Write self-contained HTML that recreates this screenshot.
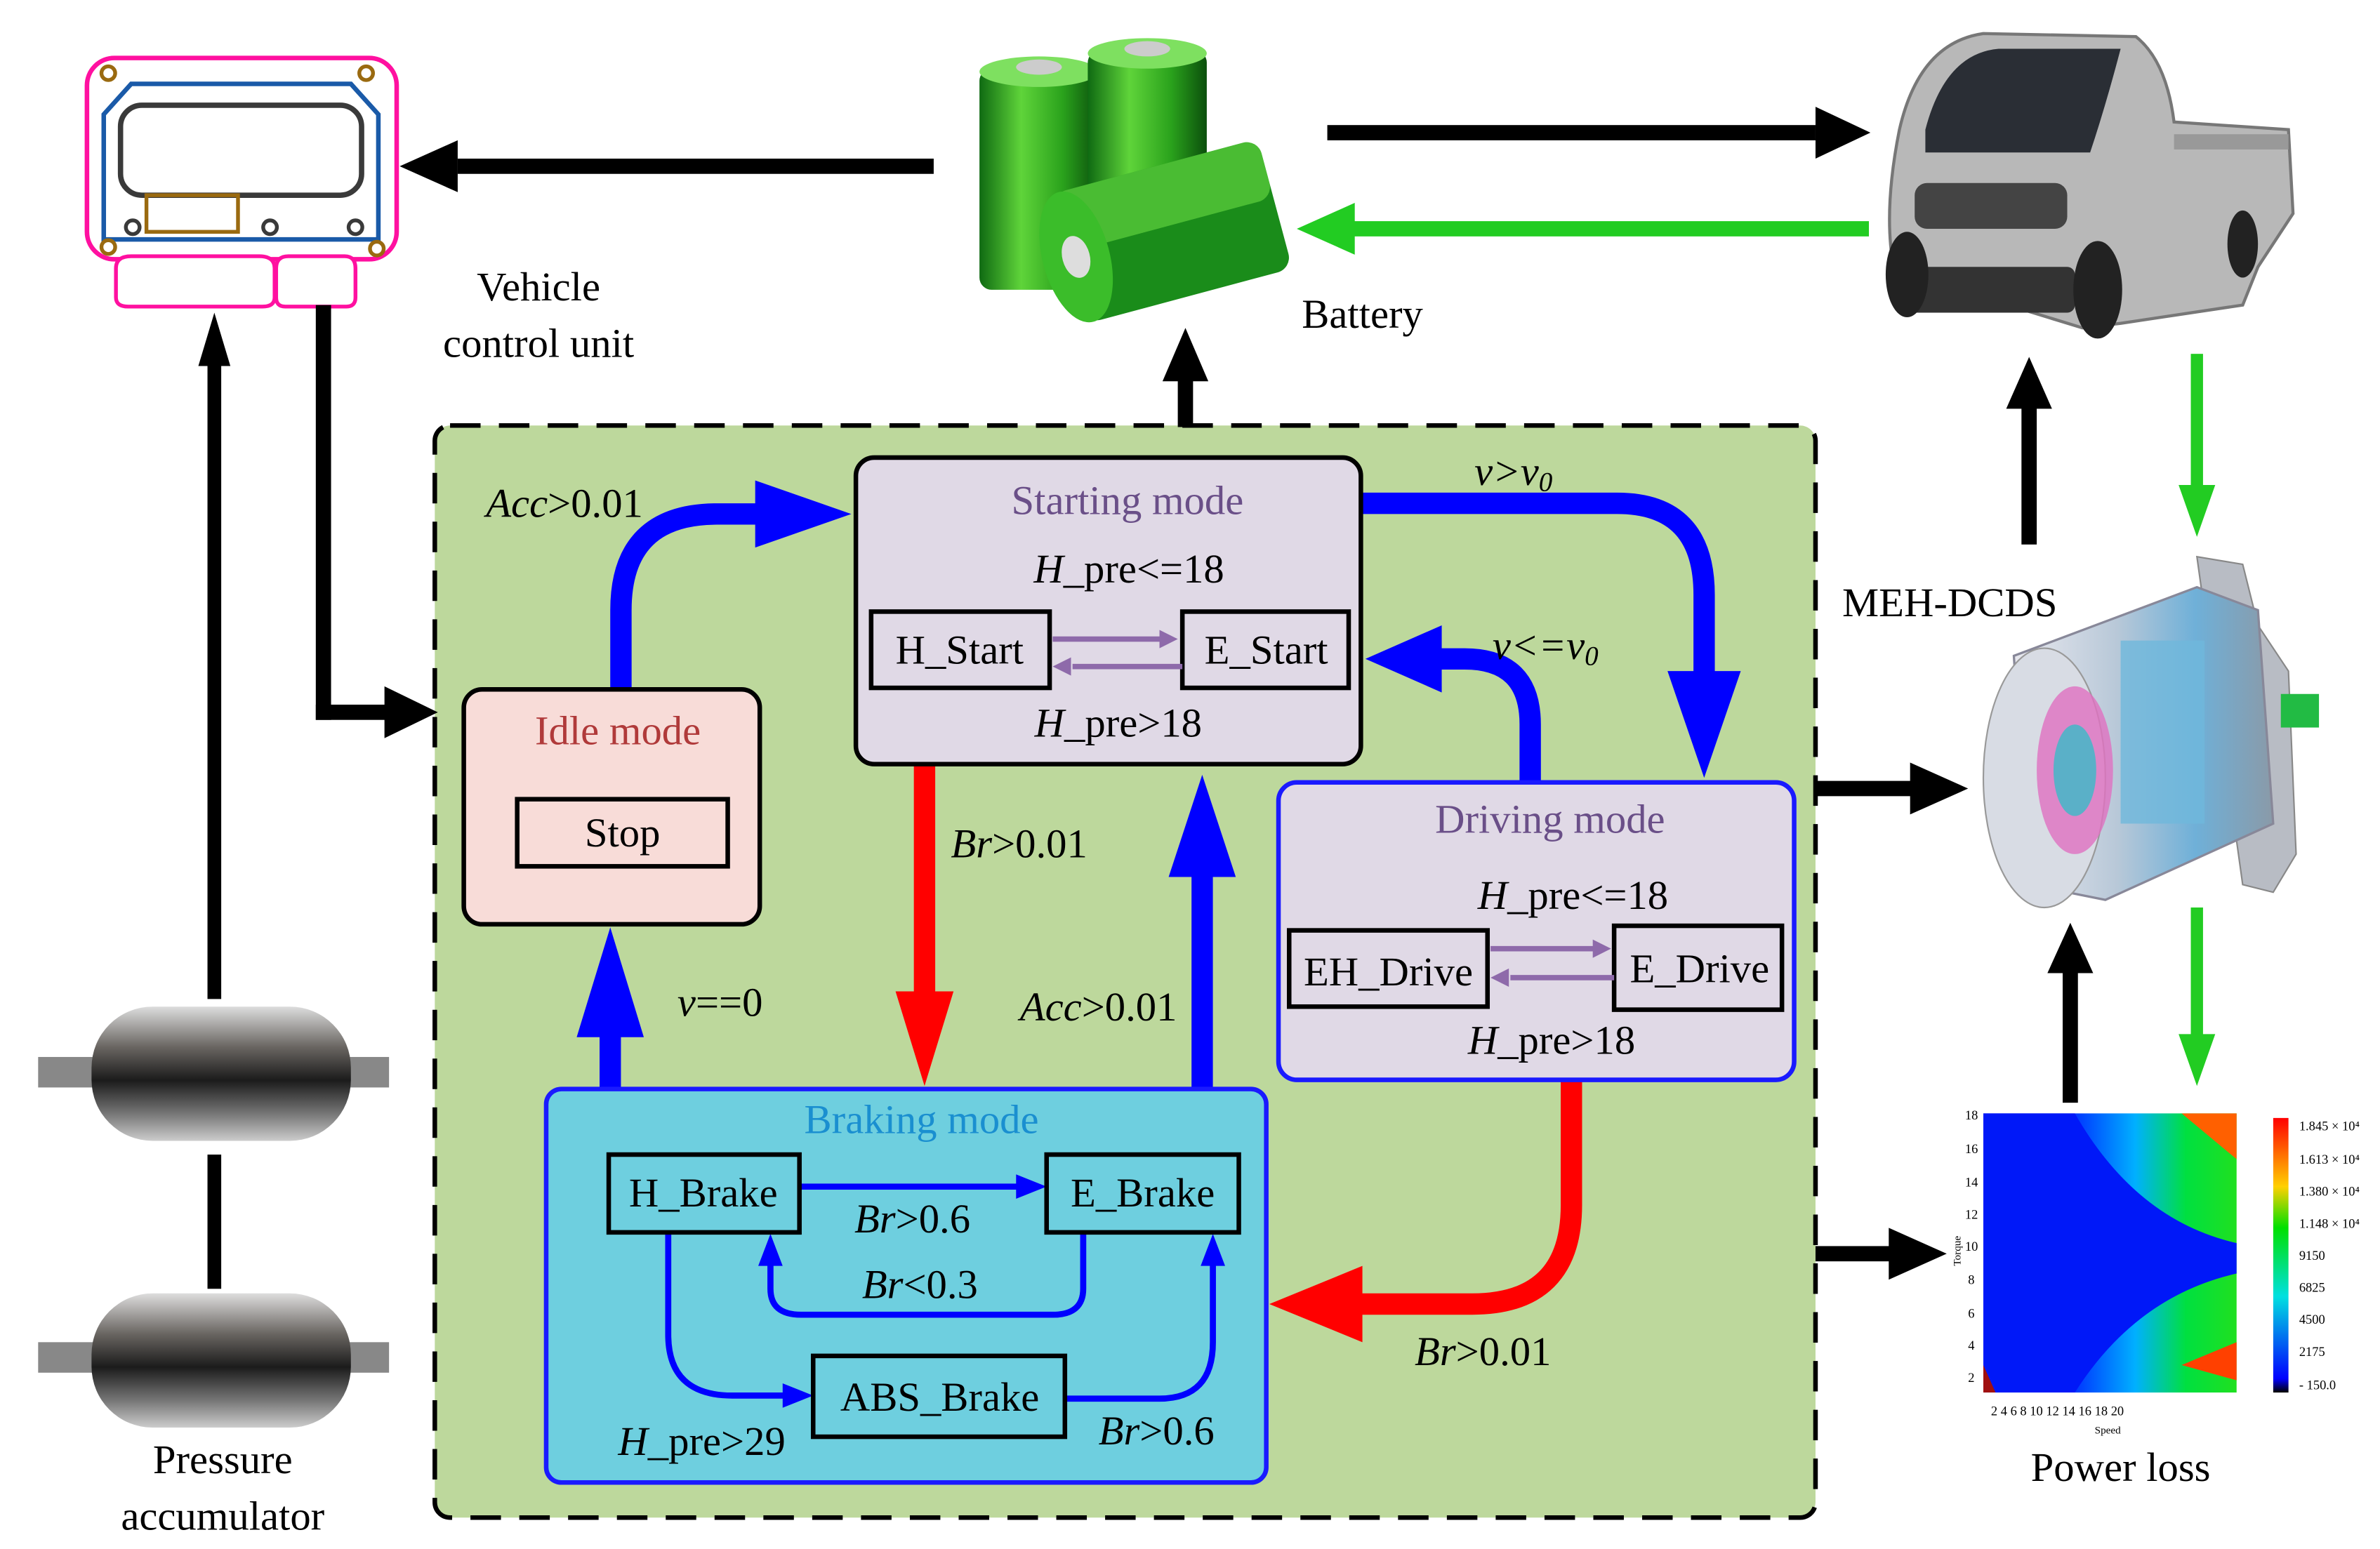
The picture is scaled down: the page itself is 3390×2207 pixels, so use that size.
<!DOCTYPE html>
<html><head><meta charset="utf-8"><style>
html,body{margin:0;padding:0;background:#fff;}
svg{display:block;}
text{font-family:"Liberation Serif",serif;}
</style></head><body>
<svg width="3390" height="2207" viewBox="0 0 1560 1015.6" preserveAspectRatio="none" xmlns="http://www.w3.org/2000/svg">
<defs>
<linearGradient id="gb" x1="0" x2="1"><stop offset="0" stop-color="#0f6a12"/><stop offset="0.35" stop-color="#5fd43a"/><stop offset="0.7" stop-color="#2aa21c"/><stop offset="1" stop-color="#0b4f0c"/></linearGradient>
<linearGradient id="gm" x1="0" x2="0" y1="0" y2="1"><stop offset="0" stop-color="#ddd"/><stop offset="0.3" stop-color="#6a6662"/><stop offset="0.55" stop-color="#1b1b1b"/><stop offset="0.8" stop-color="#777"/><stop offset="1" stop-color="#ccc"/></linearGradient>
<linearGradient id="hm" x1="0" x2="1"><stop offset="0" stop-color="#0010f0"/><stop offset="0.35" stop-color="#0030ff"/><stop offset="0.6" stop-color="#00b0ff"/><stop offset="0.8" stop-color="#00e040"/><stop offset="1" stop-color="#20e020"/></linearGradient>
<linearGradient id="cb" x1="0" x2="0" y1="0" y2="1"><stop offset="0" stop-color="#ff0000"/><stop offset="0.25" stop-color="#ffd000"/><stop offset="0.4" stop-color="#00e000"/><stop offset="0.65" stop-color="#00e0e0"/><stop offset="0.95" stop-color="#0000ff"/><stop offset="1" stop-color="#000"/></linearGradient>
<linearGradient id="mt" x1="0" x2="1"><stop offset="0" stop-color="#e8e8ee"/><stop offset="0.4" stop-color="#b8c8d8"/><stop offset="0.7" stop-color="#6fb0d8"/><stop offset="1" stop-color="#8a9aa8"/></linearGradient>
</defs>

<!-- dashed green region -->
<rect x="285" y="279" width="905" height="716" rx="10" fill="#bdd89c" stroke="#000" stroke-width="3" stroke-dasharray="20,12"/>

<!-- ECU -->
<rect x="57" y="38" width="203" height="132" rx="18" fill="#fff" stroke="#ff10a0" stroke-width="3"/>
<path d="M68 157 L68 75 L86 55 L230 55 L248 75 L248 157 Z" fill="none" stroke="#1a5aa8" stroke-width="3"/>
<rect x="79" y="69" width="158" height="59" rx="14" fill="#fff" stroke="#3a3a3a" stroke-width="3.5"/>
<rect x="96" y="128" width="60" height="24" fill="none" stroke="#9a6a10" stroke-width="2.5"/>
<g fill="none" stroke="#3a3a3a" stroke-width="2.5"><circle cx="87" cy="149" r="4.5"/><circle cx="177" cy="149" r="4.5"/><circle cx="233" cy="149" r="4.5"/></g>
<g fill="none" stroke="#9a6a10" stroke-width="2.5"><circle cx="71" cy="48" r="4.5"/><circle cx="240" cy="48" r="4.5"/><circle cx="71" cy="162" r="4.5"/><circle cx="247" cy="163" r="4.5"/></g>
<path d="M76 176 Q76 168 86 168 L170 168 Q180 168 180 176 L180 195 Q180 201 172 201 L84 201 Q76 201 76 195 Z" fill="#fff" stroke="#ff10a0" stroke-width="2.5"/>
<path d="M181 176 Q181 168 189 168 L226 168 Q233 168 233 176 L233 195 Q233 201 227 201 L187 201 Q181 201 181 195 Z" fill="#fff" stroke="#ff10a0" stroke-width="2.5"/>
<text x="353" y="197" font-size="27" text-anchor="middle">Vehicle</text>
<text x="353" y="234" font-size="27" text-anchor="middle">control unit</text>

<!-- batteries -->
<g>
<rect x="642" y="45" width="78" height="145" rx="8" fill="url(#gb)"/>
<ellipse cx="681" cy="47" rx="39" ry="10" fill="#7ee060"/><ellipse cx="681" cy="44" rx="15" ry="5" fill="#ccc"/>
<rect x="713" y="33" width="78" height="140" rx="8" fill="url(#gb)"/>
<ellipse cx="752" cy="35" rx="39" ry="10" fill="#7ee060"/><ellipse cx="752" cy="32" rx="15" ry="5" fill="#ccc"/>
<g transform="rotate(-15 760 160)">
<rect x="700" y="110" width="140" height="88" rx="10" fill="#1a8c1a"/>
<rect x="700" y="110" width="140" height="40" rx="10" fill="#6adc44" opacity="0.6"/>
<ellipse cx="705" cy="154" rx="22" ry="44" fill="#3bbd2a"/>
<ellipse cx="705" cy="154" rx="9" ry="14" fill="#ddd"/>
</g>
</g>
<text x="893" y="215" font-size="27" text-anchor="middle">Battery</text>

<!-- truck -->
<g>
<path d="M1245 85 Q1258 28 1300 22 L1400 24 Q1420 40 1425 80 L1500 85 L1503 140 L1480 175 L1470 200 L1390 212 L1365 215 L1300 195 L1245 190 Q1232 150 1245 85 Z" fill="#b8b8b8" stroke="#777" stroke-width="2"/>
<path d="M1262 85 Q1275 35 1310 32 L1390 32 Q1380 70 1370 100 L1262 100 Z" fill="#2a2e35"/>
<rect x="1255" y="120" width="100" height="30" rx="8" fill="#444"/>
<rect x="1250" y="175" width="110" height="30" rx="5" fill="#333"/>
<ellipse cx="1250" cy="180" rx="14" ry="28" fill="#222"/>
<ellipse cx="1375" cy="190" rx="16" ry="32" fill="#222"/>
<ellipse cx="1470" cy="160" rx="10" ry="22" fill="#222"/>
<rect x="1425" y="88" width="75" height="10" fill="#999"/>
</g>
<text x="1278" y="404" font-size="27" text-anchor="middle">MEH-DCDS</text>

<!-- motor -->
<g>
<path d="M1440 365 L1470 370 L1480 410 L1500 440 L1505 560 L1490 585 L1470 580 Z" fill="#b8bcc4" stroke="#888"/>
<path d="M1320 430 L1440 385 L1480 400 L1490 540 L1380 590 L1330 580 Z" fill="url(#mt)" stroke="#889" stroke-width="1.5"/>
<ellipse cx="1340" cy="510" rx="40" ry="85" fill="#d8dce4" stroke="#999"/>
<ellipse cx="1360" cy="505" rx="25" ry="55" fill="#e070c0" opacity="0.8"/>
<ellipse cx="1360" cy="505" rx="14" ry="30" fill="#5ab0c8"/>
<rect x="1390" y="420" width="55" height="120" fill="#6fb8dc" opacity="0.8"/>
<rect x="1495" y="455" width="25" height="22" fill="#22bb44"/>
</g>

<!-- heatmap -->
<g>
<rect x="1300" y="730" width="166" height="183" fill="url(#hm)"/>
<path d="M1300 730 L1360 730 Q1400 800 1466 815 L1466 835 Q1400 850 1360 913 L1300 913 Z" fill="#0018f8"/>
<path d="M1430 730 L1466 730 L1466 760 Z" fill="#ff6000"/>
<path d="M1430 895 L1466 880 L1466 905 Z" fill="#ff4000"/>
<path d="M1300 895 L1308 913 L1300 913 Z" fill="#a01010"/>
<rect x="1490" y="733" width="10" height="180" fill="url(#cb)"/>
<g font-size="8.5" fill="#000">
<text x="1507" y="741">1.845 × 10⁴</text><text x="1507" y="763">1.613 × 10⁴</text><text x="1507" y="784">1.380 × 10⁴</text><text x="1507" y="805">1.148 × 10⁴</text>
<text x="1507" y="826">9150</text><text x="1507" y="847">6825</text><text x="1507" y="868">4500</text><text x="1507" y="889">2175</text><text x="1507" y="911">- 150.0</text>
<text x="1288" y="734">18</text><text x="1288" y="756">16</text><text x="1288" y="778">14</text><text x="1288" y="799">12</text><text x="1288" y="820">10</text><text x="1290" y="842">8</text><text x="1290" y="864">6</text><text x="1290" y="885">4</text><text x="1290" y="906">2</text>
<text x="1305" y="928">2   4   6   8  10  12  14  16  18  20</text>
<text x="1373" y="940" font-size="7">Speed</text>
<text x="1285" y="830" font-size="7" transform="rotate(-90 1285 830)">Torque</text>
</g>
</g>
<text x="1390" y="971" font-size="27" text-anchor="middle">Power loss</text>

<!-- accumulators -->
<g>
<rect x="25" y="693" width="40" height="20" fill="#888"/><rect x="225" y="693" width="30" height="20" fill="#888"/>
<rect x="60" y="660" width="170" height="88" rx="40" fill="url(#gm)"/>
<rect x="25" y="880" width="40" height="20" fill="#888"/><rect x="225" y="880" width="30" height="20" fill="#888"/>
<rect x="60" y="848" width="170" height="88" rx="40" fill="url(#gm)"/>
</g>
<text x="146" y="966" font-size="27" text-anchor="middle">Pressure</text>
<text x="146" y="1003" font-size="27" text-anchor="middle">accumulator</text>

<!-- black arrows -->
<g fill="#000" stroke="none">
<rect x="300" y="104" width="312" height="10"/><polygon points="262,109 300,92 300,126"/>
<rect x="870" y="82" width="320" height="10"/><polygon points="1226,87 1190,70 1190,104"/>
<rect x="772" y="245" width="10" height="35"/><polygon points="777,215 762,250 792,250"/>
<rect x="136" y="235" width="9" height="420"/><polygon points="140.5,205 130,240 151,240"/>
<rect x="136" y="757" width="9" height="88"/>
<rect x="207" y="200" width="10" height="272"/><rect x="207" y="462" width="50" height="10"/><polygon points="287,467 252,450 252,484"/>
<rect x="1190" y="512" width="65" height="10"/><polygon points="1290,517 1252,500 1252,534"/>
<rect x="1190" y="817" width="50" height="10"/><polygon points="1276,822 1238,805 1238,839"/>
<rect x="1325" y="262" width="10" height="95"/><polygon points="1330,234 1315,268 1345,268"/>
<rect x="1352" y="633" width="10" height="90"/><polygon points="1357,605 1342,638 1372,638"/>
</g>
<!-- green arrows -->
<g fill="#22cc22">
<rect x="885" y="145" width="340" height="10"/><polygon points="850,150 888,133 888,167"/>
<rect x="1436" y="232" width="8" height="90"/><polygon points="1440,352 1428,318 1452,318"/>
<rect x="1436" y="595" width="8" height="85"/><polygon points="1440,712 1428,678 1452,678"/>
</g>

<!-- big blue/red connectors -->
<g fill="none" stroke-width="14">
<path d="M407 452 L407 400 Q407 337 470 337 L500 337" stroke="#0000ff"/>
<path d="M892 330 L1060 330 Q1117 330 1117 390 L1117 445" stroke="#0000ff"/>
<path d="M1003 513 L1003 475 Q1003 432 960 432 L940 432" stroke="#0000ff"/>
<path d="M788 714 L788 570" stroke="#0000ff"/>
<path d="M400 714 L400 675" stroke="#0000ff"/>
<path d="M606 501 L606 655" stroke="#ff0000"/>
<path d="M1030 708 L1030 790 Q1030 855 965 855 L888 855" stroke="#ff0000"/>
</g>
<g>
<polygon points="558,337 495,315 495,359" fill="#0000ff"/>
<polygon points="1117,510 1093,440 1141,440" fill="#0000ff"/>
<polygon points="895,432 945,410 945,454" fill="#0000ff"/>
<polygon points="788,508 766,575 810,575" fill="#0000ff"/>
<polygon points="400,608 378,680 422,680" fill="#0000ff"/>
<polygon points="606,712 587,650 625,650" fill="#ff0000"/>
<polygon points="832,855 893,830 893,880" fill="#ff0000"/>
</g>

<!-- Starting mode -->
<rect x="561" y="300" width="331" height="201" rx="12" fill="#e0d9e6" stroke="#000" stroke-width="3"/>
<text x="739" y="337" font-size="27" text-anchor="middle" fill="#6a4f88">Starting mode</text>
<text x="740" y="382" font-size="27" text-anchor="middle"><tspan font-style="italic">H</tspan>_pre&lt;=18</text>
<rect x="571" y="401" width="117" height="50" fill="#e0d9e6" stroke="#000" stroke-width="3"/>
<text x="629" y="435" font-size="27" text-anchor="middle">H_Start</text>
<rect x="775" y="401" width="109" height="50" fill="#e0d9e6" stroke="#000" stroke-width="3"/>
<text x="830" y="435" font-size="27" text-anchor="middle">E_Start</text>
<g stroke="#8e6aaa" stroke-width="3.5" fill="#8e6aaa"><line x1="690" y1="419" x2="762" y2="419"/><polygon points="772,419 760,413 760,425" stroke="none"/><line x1="703" y1="437" x2="775" y2="437"/><polygon points="690,437 702,431 702,443" stroke="none"/></g>
<text x="733" y="483" font-size="27" text-anchor="middle"><tspan font-style="italic">H</tspan>_pre&gt;18</text>

<!-- Idle mode -->
<rect x="304" y="452" width="194" height="154" rx="12" fill="#f8dcd8" stroke="#000" stroke-width="3"/>
<text x="405" y="488" font-size="27" text-anchor="middle" fill="#b03a3a">Idle mode</text>
<rect x="339" y="524" width="138" height="44" fill="#f8dcd8" stroke="#000" stroke-width="3"/>
<text x="408" y="555" font-size="27" text-anchor="middle">Stop</text>

<!-- Driving mode -->
<rect x="838" y="513" width="338" height="195" rx="12" fill="#e0d9e6" stroke="#1a1aff" stroke-width="3"/>
<text x="1016" y="546" font-size="27" text-anchor="middle" fill="#6a4f88">Driving mode</text>
<text x="1031" y="596" font-size="27" text-anchor="middle"><tspan font-style="italic">H</tspan>_pre&lt;=18</text>
<rect x="845" y="610" width="130" height="50" fill="#e0d9e6" stroke="#000" stroke-width="3"/>
<text x="910" y="646" font-size="27" text-anchor="middle">EH_Drive</text>
<rect x="1058" y="607" width="110" height="55" fill="#e0d9e6" stroke="#000" stroke-width="3"/>
<text x="1114" y="644" font-size="27" text-anchor="middle">E_Drive</text>
<g stroke="#8e6aaa" stroke-width="3.5" fill="#8e6aaa"><line x1="977" y1="622" x2="1046" y2="622"/><polygon points="1056,622 1044,616 1044,628" stroke="none"/><line x1="990" y1="641" x2="1058" y2="641"/><polygon points="977,641 989,635 989,647" stroke="none"/></g>
<text x="1017" y="691" font-size="27" text-anchor="middle"><tspan font-style="italic">H</tspan>_pre&gt;18</text>

<!-- Braking mode -->
<rect x="358" y="714" width="472" height="258" rx="10" fill="#6ecfdf" stroke="#1a1aff" stroke-width="3"/>
<text x="604" y="743" font-size="27" text-anchor="middle" fill="#1a8fd0">Braking mode</text>
<g fill="none" stroke="#0000ff" stroke-width="4">
<line x1="524" y1="778" x2="672" y2="778"/>
<path d="M710 808 L710 845 Q710 862 690 862 L525 862 Q505 862 505 845 L505 825"/>
<path d="M438 808 L438 875 Q438 915 480 915 L520 915"/>
<path d="M698 917 L760 917 Q795 917 795 880 L795 825"/>
</g>
<g fill="#0000ff">
<polygon points="686,778 666,770 666,786"/>
<polygon points="505,809 497,830 513,830"/>
<polygon points="533,915 513,907 513,923"/>
<polygon points="795,809 787,830 803,830"/>
</g>
<rect x="399" y="757" width="125" height="51" fill="#6ecfdf" stroke="#000" stroke-width="3"/>
<text x="461" y="791" font-size="27" text-anchor="middle">H_Brake</text>
<rect x="686" y="757" width="126" height="51" fill="#6ecfdf" stroke="#000" stroke-width="3"/>
<text x="749" y="791" font-size="27" text-anchor="middle">E_Brake</text>
<rect x="533" y="889" width="165" height="53" fill="#6ecfdf" stroke="#000" stroke-width="3"/>
<text x="616" y="925" font-size="27" text-anchor="middle">ABS_Brake</text>
<g font-size="27">
<text x="598" y="808" text-anchor="middle"><tspan font-style="italic">Br</tspan>&gt;0.6</text>
<text x="603" y="851" text-anchor="middle"><tspan font-style="italic">Br</tspan>&lt;0.3</text>
<text x="460" y="954" text-anchor="middle"><tspan font-style="italic">H</tspan>_pre&gt;29</text>
<text x="758" y="947" text-anchor="middle"><tspan font-style="italic">Br</tspan>&gt;0.6</text>
</g>

<!-- connector labels -->
<g font-size="27">
<text x="370" y="339" text-anchor="middle"><tspan font-style="italic">Acc</tspan>&gt;0.01</text>
<text x="992" y="318" text-anchor="middle" font-style="italic">v&gt;v<tspan font-size="18" dy="4">0</tspan></text>
<text x="1013" y="432" text-anchor="middle" font-style="italic">v&lt;=v<tspan font-size="18" dy="4">0</tspan></text>
<text x="668" y="562" text-anchor="middle"><tspan font-style="italic">Br</tspan>&gt;0.01</text>
<text x="472" y="666" text-anchor="middle"><tspan font-style="italic">v</tspan>==0</text>
<text x="720" y="669" text-anchor="middle"><tspan font-style="italic">Acc</tspan>&gt;0.01</text>
<text x="972" y="895" text-anchor="middle"><tspan font-style="italic">Br</tspan>&gt;0.01</text>
</g>
</svg>
</body></html>
